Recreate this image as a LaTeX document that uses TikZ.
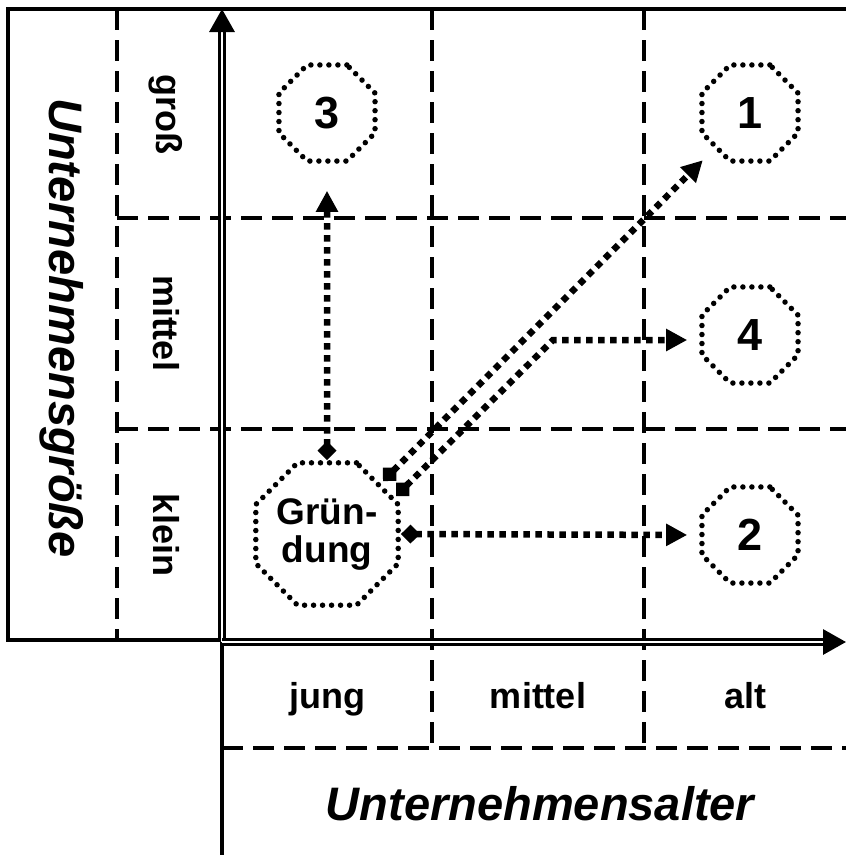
\documentclass[tikz,border=0pt]{standalone}
\usepackage{fontspec}
\setmainfont{Liberation Sans}
\usetikzlibrary{arrows.meta,shapes.geometric}
\begin{document}
\begin{tikzpicture}[x=1pt,y=-1pt,
  frame/.style={line width=3.5pt},
  gridline/.style={line width=3.5pt, dash pattern=on 21pt off 10pt},
  axis/.style={line width=3.2pt, double, double distance=2.5pt, -{Triangle[length=23pt,width=25pt]}},
  oct/.style={regular polygon, regular polygon sides=8, draw, line width=5.5pt, dash pattern=on 0pt off 9pt, line cap=round, minimum size=104pt, inner sep=0pt, font=\fontsize{45}{45}\selectfont\bfseries},
  flow/.style={line width=6.5pt, dash pattern=on 6.5pt off 5.5pt, {Diamond[length=19pt,width=19pt]}-{Triangle[length=21pt,width=21pt]}},
  lbl/.style={font=\fontsize{36}{36}\selectfont\bfseries, inner sep=0pt},
  ttl/.style={font=\fontsize{47}{47}\selectfont\bfseries\itshape, inner sep=0pt}]
\useasboundingbox (0,0) rectangle (846,855);
% frame
\coordinate (tl) at (8,9);
\coordinate (tr) at (846,9);
\coordinate (bl) at (8,640);
\coordinate (br) at (222,640);
\coordinate (o) at (222,642);
\coordinate (ytop) at (222,9);
\coordinate (ybot) at (222,855);
\coordinate (xend) at (846,642);
\draw[frame] (tr) -- (tl) -- (bl) -- (br);
\draw[frame] (o) -- (ybot);
% grid
\draw[gridline] (117,9) -- (117,640);
\draw[gridline] (117,218) -- (846,218);
\draw[gridline] (117,429) -- (846,429);
\draw[gridline] (432,9) -- (432,748);
\draw[gridline] (644,9) -- (644,748);
\draw[gridline] (222,748) -- (846,748);
% axes
\draw[axis] (o) -- (ytop);
\draw[axis] (o) -- (xend);
% labels
\node[ttl, rotate=-90] (ylab) at (62,328) {Unternehmensgröße};
\node[lbl, rotate=-90] (gross) at (166,114) {groß};
\node[lbl, rotate=-90] (ymid) at (166,323) {mittel};
\node[lbl, rotate=-90] (klein) at (166,535) {klein};
\node[lbl, anchor=base] (jung) at (327,708) {jung};
\node[lbl, anchor=base] (xmid) at (538,708) {mittel};
\node[lbl, anchor=base] (alt) at (745,708) {alt};
\node[ttl, anchor=base] (xlab) at (540,820) {Unternehmensalter};
% octagons
\node[oct] (n3) at (327,113) {3};
\node[oct] (n1) at (750,113) {1};
\node[oct] (n4) at (750,335) {4};
\node[oct] (n2) at (750,535) {2};
\node[oct, minimum size=154pt, align=center, font=\fontsize{37}{38}\selectfont\bfseries] (G) at (327,534) {Grün-\\dung};
% flows
\coordinate (s1) at (383,481);
\coordinate (s2) at (396,496);
\coordinate (bend) at (553,340);
\draw[flow, shorten >=27pt] (G.north) -- (n3.south);
\draw[flow, shorten >=12pt] (G.east) -- (n2.west);
\draw[flow, shorten >=16pt] (s1) -- (n1.south west);
\draw[flow, shorten >=12pt] (s2) -- (bend) -- (bend -| n4.west);
\end{tikzpicture}
\end{document}
